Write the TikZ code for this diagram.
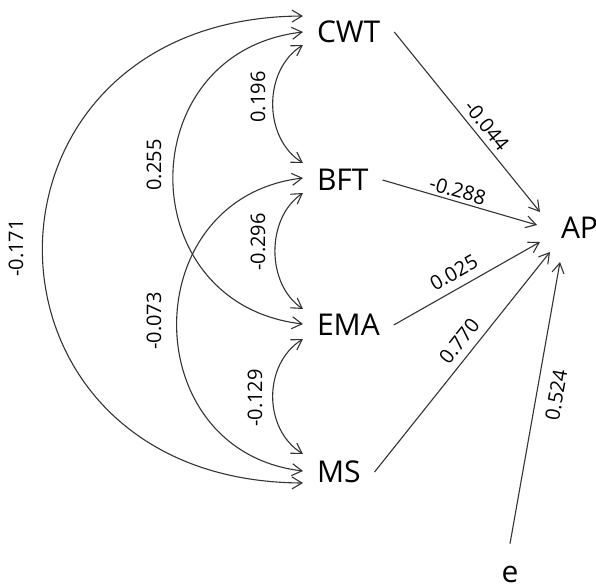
\documentclass[tikz,border=0pt]{standalone}
\usepackage{fontspec}
\setmainfont{Open Sans}
\usetikzlibrary{arrows.meta,calc}
\begin{document}
\begin{tikzpicture}[x=0.5pt,y=-0.5pt,
  var/.style={font=\fontsize{15}{18}\selectfont, inner sep=0pt, outer sep=7pt, anchor=west},
  lab/.style={font=\fontsize{10}{12}\selectfont, inner sep=0pt},
  clab/.style={lab, rotate=90},
  conn/.style={draw=black!80, line width=0.55pt},
  arr/.style={conn, -{Straight Barb[length=5pt,width=6pt]}},
  dbl/.style={conn, {Straight Barb[length=5pt,width=6pt]}-{Straight Barb[length=5pt,width=6pt]}}]
\useasboundingbox (0,0) rectangle (596,585);
% variables
\node[var] (CWT) at (303,32) {CWT};
\node[var] (BFT) at (303,180) {BFT};
\node[var] (EMA) at (303,325) {EMA};
\node[var] (MS)  at (303,472) {MS};
\node[var, outer sep=0pt] (AP) at (561,228) {AP};
\node[font=\fontsize{15}{18}\selectfont, inner sep=0pt, outer sep=11pt] (e) at (510,574) {e};
% correlations
\draw[dbl] ($(CWT.west)+(0,13)$) .. controls +(-40,25) and +(-40,-25) .. ($(BFT.west)+(0,-17)$);
\draw[dbl] (CWT.west) .. controls +(-173,20) and +(-173,-20) .. ($(EMA.west)+(0,-1)$);
\draw[dbl] ($(CWT.west)+(0,-16)$) .. controls +(-347,2) and +(-347,-2) .. ($(MS.west)+(0,11)$);
\draw[dbl] ($(BFT.west)+(0,13)$) .. controls +(-37,25) and +(-37,-25) .. ($(EMA.west)+(0,-16)$);
\draw[dbl] ($(BFT.west)+(0,-2)$) .. controls +(-168,20) and +(-168,-20) .. ($(MS.west)+(0,-1)$);
\draw[dbl] ($(EMA.west)+(0,14)$) .. controls +(-40,25) and +(-40,-25) .. ($(MS.west)+(0,-18)$);
% correlation labels
\node[clab] (l196) at (258,97) {0.196};
\node[clab] (l255) at (154,165) {0.255};
\node[clab] (l171) at (16,248) {-0.171};
\node[clab] (l073) at (154,321) {-0.073};
\node[clab] (l296) at (258,242) {-0.296};
\node[clab] (l129) at (255,398) {-0.129};
% paths
\draw[arr] (CWT.east) -- node[lab, sloped, above, inner sep=2.5pt, pos=0.565] {-0.044} ($(AP.west)+(-21,-16)$);
\draw[arr] (BFT.east) -- node[lab, sloped, above, inner sep=1.5pt, pos=0.467] {-0.288} ($(AP.west)+(-24,-3)$);
\draw[arr] (EMA.east) -- node[lab, sloped, above, inner sep=4pt, pos=0.464] {0.025} ($(AP.west)+(-21,14)$);
\draw[arr] (MS.east) -- node[lab, sloped, above, inner sep=3.8pt, pos=0.552] {0.770} ($(AP.west)+(-11,24)$);
\draw[arr] (e.north) -- node[lab, sloped, below, inner sep=5.8pt, pos=0.54] {0.524} ($(AP.west)+(-1,34)$);
\end{tikzpicture}
\end{document}
